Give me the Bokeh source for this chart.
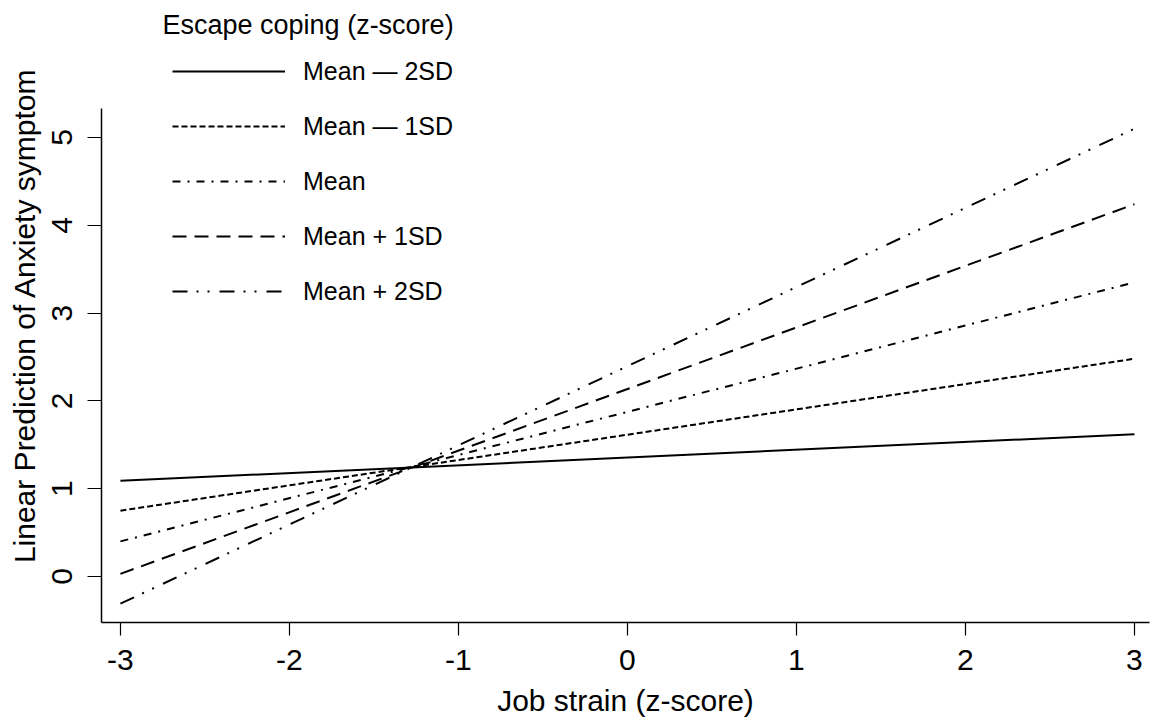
from bokeh.plotting import figure
from bokeh.models import Range1d, Legend, LegendItem, Label, FixedTicker
from bokeh.embed import file_html
from bokeh.resources import INLINE

# ---- data ----
job_strain = [-3, 3]
mean_m2sd = [1.09, 1.62]
mean_m1sd = [0.75, 2.48]
mean_0 = [0.40, 3.35]
mean_p1sd = [0.03, 4.24]
mean_p2sd = [-0.31, 5.10]

series_labels = ["Mean \u2014 2SD", "Mean \u2014 1SD", "Mean", "Mean + 1SD", "Mean + 2SD"]
x_ticks = [-3, -2, -1, 0, 1, 2, 3]
x_tick_labels = ["-3", "-2", "-1", "0", "1", "2", "3"]
y_ticks = [0, 1, 2, 3, 4, 5]

FONT = "Liberation Sans"

p = figure(width=1157, height=720, output_backend="svg", toolbar_location=None,
           x_range=Range1d(-3.112, 3.089), y_range=Range1d(-0.524, 6.469),
           min_border_left=101, min_border_right=8, min_border_top=8,
           min_border_bottom=98)
p.outline_line_color = None
p.grid.visible = False
p.background_fill_color = "white"

p.xaxis.ticker = FixedTicker(ticks=x_ticks)
p.xaxis.major_label_overrides = {t: s for t, s in zip(x_ticks, x_tick_labels)}
p.yaxis.ticker = FixedTicker(ticks=y_ticks)
p.yaxis.bounds = (-0.524, 5.33)

for ax in (p.xaxis[0], p.yaxis[0]):
    ax.axis_line_color = "black"
    ax.axis_line_width = 1.5
    ax.major_tick_line_color = "black"
    ax.major_tick_line_width = 1.2
    ax.minor_tick_line_color = None
    ax.major_tick_in = 0
    ax.major_label_text_font = FONT
    ax.major_label_text_font_size = "30px"
    ax.major_label_text_color = "black"
    ax.axis_label_text_font = FONT
    ax.axis_label_text_font_size = "30px"
    ax.axis_label_text_font_style = "normal"
    ax.axis_label_text_color = "black"

p.xaxis.axis_label = "Job strain (z-score)"
p.xaxis.major_tick_out = 13
p.xaxis.major_label_standoff = 14
p.xaxis.axis_label_standoff = 11

p.yaxis.axis_label = "Linear Prediction of Anxiety symptom"
p.yaxis.major_tick_out = 14
p.yaxis.major_label_standoff = 15
p.yaxis.axis_label_standoff = 9
p.yaxis.major_label_orientation = "vertical"

dashes = ["solid", "6 3", "8 7 2 7", "14 8", "15 9 2 9 2 10"]
series = [mean_m2sd, mean_m1sd, mean_0, mean_p1sd, mean_p2sd]

items = []
for lab, ys, d in zip(series_labels, series, dashes):
    r = p.line(job_strain, ys, line_color="black", line_width=2, line_dash=d)
    items.append(LegendItem(label=lab, renderers=[r]))

legend = Legend(items=items, location=(71, 316),
                glyph_width=113, glyph_height=30, label_height=30,
                spacing=25, label_standoff=18, padding=0, margin=0,
                border_line_color=None, background_fill_alpha=0,
                label_text_font=FONT, label_text_font_size="25px",
                label_text_color="black", label_text_baseline="middle")
p.add_layout(legend)

title = Label(x=-2.751, y=6.276, text="Escape coping (z-score)",
              text_font=FONT, text_font_size="27px", text_color="black",
              text_baseline="middle", text_align="left")
p.add_layout(title)

open("out.html", "w").write(file_html(p, INLINE))
